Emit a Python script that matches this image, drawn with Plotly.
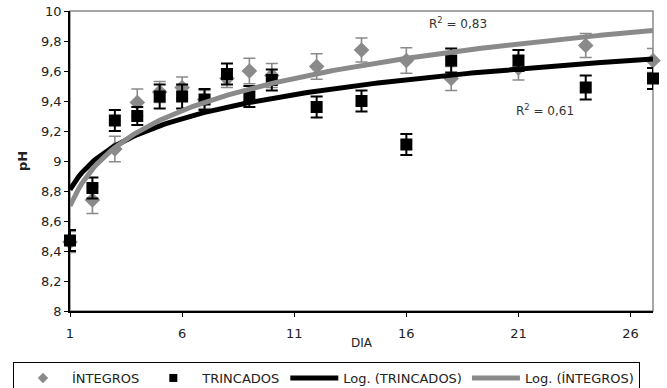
import numpy as np
import plotly.graph_objects as go

# ---- data ----
days = [1, 2, 3, 4, 5, 6, 7, 8, 9, 10, 12, 14, 16, 18, 21, 24, 27]
trincados = [8.47, 8.82, 9.27, 9.30, 9.43, 9.43, 9.41, 9.58, 9.43, 9.54,
             9.36, 9.40, 9.11, 9.67, 9.67, 9.49, 9.55]
trincados_err = [0.07, 0.07, 0.07, 0.06, 0.08, 0.08, 0.07, 0.07, 0.07, 0.07,
                 0.07, 0.07, 0.07, 0.08, 0.07, 0.08, 0.07]
integros = [8.46, 8.74, 9.08, 9.39, 9.46, 9.49, 9.41, 9.55, 9.60, 9.57,
            9.63, 9.74, 9.67, 9.55, 9.62, 9.77, 9.67]
integros_err = [0.07, 0.09, 0.085, 0.09, 0.07, 0.07, 0.06, 0.06, 0.085, 0.08,
                0.085, 0.08, 0.085, 0.08, 0.08, 0.08, 0.08]

# logarithmic trend lines (y = a*ln(x) + b)
log_trincados_a, log_trincados_b = 0.264, 8.81
log_integros_a, log_integros_b = 0.355, 8.70
r2_trincados = "0,61"
r2_integros = "0,83"

x_tickvals = [1, 6, 11, 16, 21, 26]
y_tickvals = [8, 8.2, 8.4, 8.6, 8.8, 9, 9.2, 9.4, 9.6, 9.8, 10]
y_ticktext = ["8", "8,2", "8,4", "8,6", "8,8", "9", "9,2", "9,4", "9,6", "9,8", "10"]

GREY = "#8a8a8a"
FONT = "DejaVu Sans"

trend_x = np.linspace(1, 27, 200)

fig = go.Figure()

fig.add_trace(go.Scatter(
    x=days, y=integros, mode="markers", name="ÍNTEGROS", showlegend=False,
    marker=dict(symbol="diamond", size=12, color=GREY),
    error_y=dict(type="data", array=integros_err, color=GREY, thickness=1.6, width=6),
    cliponaxis=False,
))
fig.add_trace(go.Scatter(
    x=days, y=trincados, mode="markers", name="TRINCADOS", showlegend=False,
    marker=dict(symbol="square", size=12, color="black"),
    error_y=dict(type="data", array=trincados_err, color="black", thickness=2, width=6),
    cliponaxis=False,
))
fig.add_trace(go.Scatter(
    x=trend_x, y=log_trincados_a * np.log(trend_x) + log_trincados_b,
    mode="lines", name="Log. (TRINCADOS)", showlegend=False,
    line=dict(color="black", width=5), cliponaxis=False,
))
fig.add_trace(go.Scatter(
    x=trend_x, y=log_integros_a * np.log(trend_x) + log_integros_b,
    mode="lines", name="Log. (ÍNTEGROS)", showlegend=False,
    line=dict(color=GREY, width=5), cliponaxis=False,
))

# legend-only entries (smaller symbols, as in the reference legend)
fig.add_trace(go.Scatter(x=[None], y=[None], mode="markers", name="ÍNTEGROS",
                         marker=dict(symbol="diamond", size=8, color=GREY)))
fig.add_trace(go.Scatter(x=[None], y=[None], mode="markers", name="TRINCADOS",
                         marker=dict(symbol="square", size=8, color="black")))
fig.add_trace(go.Scatter(x=[None], y=[None], mode="lines", name="Log. (TRINCADOS)",
                         line=dict(color="black", width=5)))
fig.add_trace(go.Scatter(x=[None], y=[None], mode="lines", name="Log. (ÍNTEGROS)",
                         line=dict(color=GREY, width=5)))

# plot-area frame (grey top/right)
fig.add_shape(type="rect", xref="x domain", yref="y domain", x0=0, x1=1, y0=0, y1=1,
              line=dict(color=GREY, width=1.5), layer="below")

fig.add_annotation(x=18.3, y=9.92, text=f"R<sup>2</sup> = {r2_integros}", showarrow=False,
                   font=dict(family=FONT, size=12, color="#333"))
fig.add_annotation(x=22.2, y=9.34, text=f"R<sup>2</sup> = {r2_trincados}", showarrow=False,
                   font=dict(family=FONT, size=12, color="#333"))
fig.add_annotation(xref="paper", yref="paper", x=0.5, y=-0.105, text="DIA", showarrow=False,
                   yanchor="middle", font=dict(family=FONT, size=12, color="#222"))

fig.update_layout(
    width=667, height=388,
    margin=dict(l=70, r=14, t=11, b=77, autoexpand=False),
    paper_bgcolor="white", plot_bgcolor="white",
    font=dict(family=FONT, size=12, color="#222"),
    showlegend=True,
    legend=dict(orientation="h", xref="paper", yref="paper",
                x=(13 - 70) / 583, xanchor="left", y=(311 - 362) / 300, yanchor="top",
                bordercolor="black", borderwidth=1, font=dict(family=FONT, size=13),
                itemwidth=48, tracegroupgap=0),
    xaxis=dict(range=[1, 27], tickvals=x_tickvals, showgrid=False, zeroline=False,
               showline=True, linecolor="black", linewidth=1.5, ticks="outside",
               ticklen=4, tickcolor="black", ticklabelstandoff=6,
               tickfont=dict(size=13, color="#222")),
    yaxis=dict(range=[8, 10], tickvals=y_tickvals, ticktext=y_ticktext, showgrid=False,
               zeroline=False, showline=True, linecolor="black", linewidth=1.5,
               ticks="outside", ticklen=4, tickcolor="black",
               tickfont=dict(size=13, color="#222"),
               title=dict(text="<b>pH</b>", font=dict(size=13), standoff=10)),
)

fig.write_html("out.html")
